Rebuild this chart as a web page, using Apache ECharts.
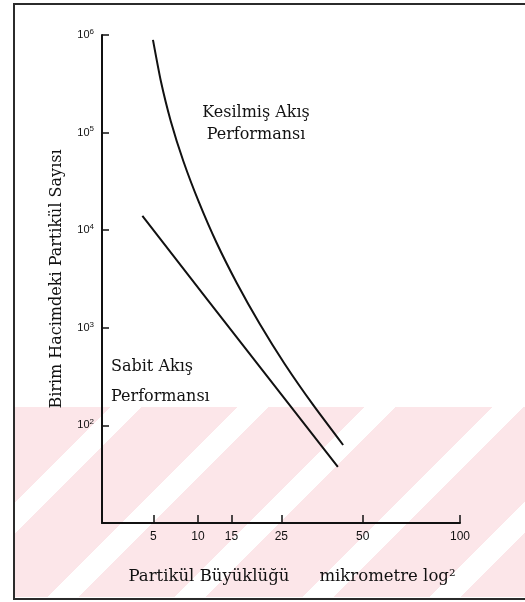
<!DOCTYPE html>
<html>
<head>
<meta charset="utf-8">
<script src="https://cdn.jsdelivr.net/npm/echarts@6/dist/echarts.min.js"></script>
<style>
  html, body { margin: 0; padding: 0; background: #fff; }
  #wrap { position: relative; width: 525px; height: 602px; overflow: hidden; }
  #wm {
    position: absolute; left: 14px; top: 407px; width: 511px; height: 190px;
    background: repeating-linear-gradient(135deg, #fce6e9 0 68px, #ffffff 68px 90px);
  }
  #frame {
    position: absolute; left: 13px; top: 3px; width: 520px; height: 593px;
    border-top: 2px solid #2b2b2b; border-left: 2px solid #2b2b2b; border-bottom: 2px solid #2b2b2b;
    pointer-events: none;
  }
  #chart { position: absolute; left: 0; top: 0; width: 525px; height: 602px; }
</style>
</head>
<body>
<div id="wrap">
  <div id="wm"></div>
  <div id="chart"></div>
  <div id="frame"></div>
</div>
<script>
// particle size (micrometre) and count per unit volume
const kesilmisSize = [4.96, 5.71, 6.75, 8.18, 10.1, 12.6, 15.9, 20.2, 25.8, 33.2, 42.8];
const kesilmisCount = [890000, 342000, 131000, 50600, 19500, 7480, 2880, 1107, 426, 164, 63];
const sabitSize = [4.0, 11.3, 41.0];
const sabitCount = [14000, 1930, 37.5];
const xTicks = [5, 10, 15, 25, 50, 100];
const serif = '"DejaVu Serif", "Liberation Serif", serif';

// x axis of the original is spaced by (log10 size)^2
function toAxis(v) { const l = Math.log10(v); return l * l; }
function fromAxis(u) { return Math.round(Math.pow(10, Math.sqrt(Math.max(u, 0)))); }
function pairs(xs, ys) { return xs.map((x, i) => [toAxis(x), ys[i]]); }

const tickPos = xTicks.map(toAxis);
const chart = echarts.init(document.getElementById('chart'));

chart.setOption({
  backgroundColor: 'transparent',
  animation: false,
  grid: { left: 102, right: 65, top: 35, bottom: 79 },
  xAxis: {
    type: 'value',
    min: -0.1,
    max: 4,
    name: '{a|Partikül Büyüklüğü}{b|mikrometre log²}',
    nameLocation: 'middle',
    nameGap: 45,
    nameTextStyle: {
      rich: {
        a: { fontFamily: serif, fontSize: 16.5, color: '#111', padding: [0, 30, 0, 22] },
        b: { fontFamily: serif, fontSize: 16.5, color: '#111' }
      }
    },
    axisLine: { onZero: false, lineStyle: { color: '#111', width: 2 } },
    axisTick: { inside: true, length: 8, lineStyle: { color: '#111', width: 1.5 }, customValues: tickPos },
    axisLabel: {
      customValues: tickPos,
      formatter: fromAxis,
      margin: 8,
      fontFamily: '"Liberation Sans", Arial, sans-serif',
      fontSize: 12,
      color: '#111'
    },
    splitLine: { show: false }
  },
  yAxis: {
    type: 'log',
    logBase: 10,
    min: 10,
    max: 1000000,
    name: 'Birim Hacimdeki Partikül Sayısı',
    nameLocation: 'middle',
    nameGap: 37,
    nameTextStyle: { fontFamily: serif, fontSize: 16, color: '#111' },
    axisLine: { onZero: false, lineStyle: { color: '#111', width: 2 } },
    axisTick: { inside: true, length: 7, lineStyle: { color: '#111', width: 1.5 } },
    axisLabel: {
      margin: 8,
      formatter: function (v) {
        const e = Math.round(Math.log10(v));
        return e < 2 ? '' : '{b|10}{s|' + e + '}';
      },
      rich: {
        b: { fontFamily: '"Liberation Sans", Arial, sans-serif', fontSize: 11, color: '#111' },
        s: { fontFamily: '"Liberation Sans", Arial, sans-serif', fontSize: 8, color: '#111', padding: [0, 0, 7, 0] }
      }
    },
    splitLine: { show: false }
  },
  graphic: [
    {
      type: 'text', x: 256, y: 124,
      style: {
        text: 'Kesilmiş Akış\nPerformansı', font: '16px ' + serif, fill: '#111',
        align: 'center', verticalAlign: 'middle', lineHeight: 22
      }
    },
    {
      type: 'text', x: 111, y: 382,
      style: {
        text: 'Sabit Akış\nPerformansı', font: '16px ' + serif, fill: '#111',
        align: 'left', verticalAlign: 'middle', lineHeight: 30
      }
    }
  ],
  series: [
    {
      name: 'Kesilmiş Akış Performansı',
      type: 'line',
      data: pairs(kesilmisSize, kesilmisCount),
      smooth: 0.2,
      showSymbol: false,
      lineStyle: { color: '#111', width: 2 }
    },
    {
      name: 'Sabit Akış Performansı',
      type: 'line',
      data: pairs(sabitSize, sabitCount),
      showSymbol: false,
      lineStyle: { color: '#111', width: 2 }
    }
  ]
});
</script>
</body>
</html>
